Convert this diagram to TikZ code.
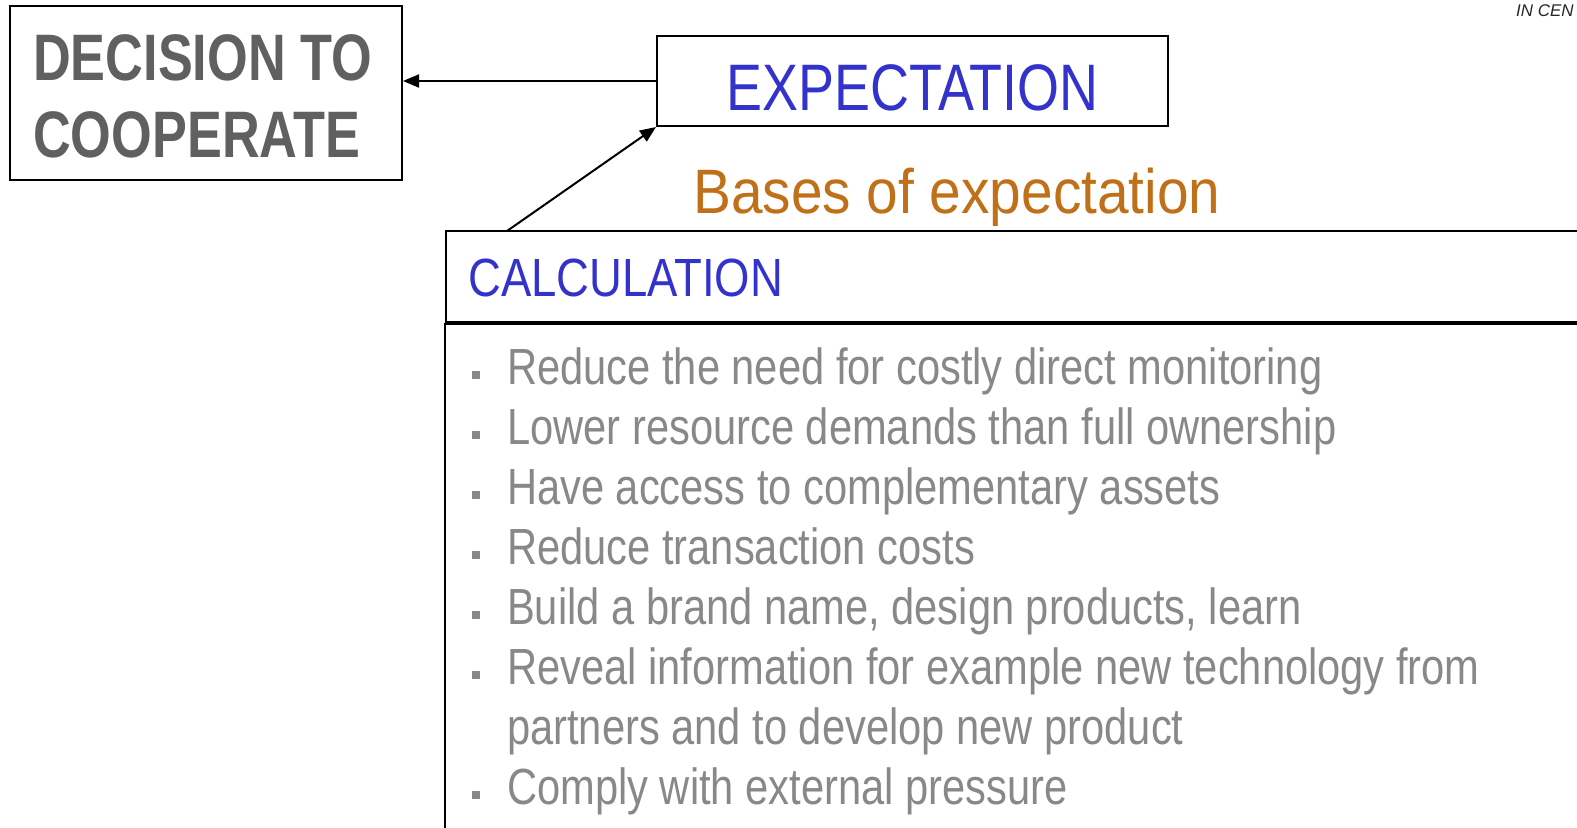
\documentclass[tikz,border=0pt]{standalone}
\usepackage{fontspec}
\setmainfont{Liberation Sans}[FakeStretch=0.82]
\newfontfamily\decfont{Liberation Sans}[FakeStretch=0.795]
\newfontfamily\basesfont{Liberation Sans}[FakeStretch=0.905]
\newfontfamily\calcfont{Liberation Sans}[FakeStretch=0.845]
\newfontfamily\cenfont{Liberation Sans}
\usetikzlibrary{arrows.meta}
\definecolor{dgray}{HTML}{606060}
\definecolor{eblue}{HTML}{3333CC}
\definecolor{borange}{HTML}{C07018}
\definecolor{lgray}{HTML}{888888}
\begin{document}
\begin{tikzpicture}[x=1bp,y=-1bp,
  box/.style={draw=black,line width=2bp,rectangle,inner sep=0pt},
  conn/.style={line width=2bp,-{Triangle[length=16bp,width=13bp]}},
  itemtext/.style={anchor=base west,inner sep=0pt,text=lgray,font=\fontsize{51}{60}\selectfont},
  bul/.style={fill=lgray,minimum size=7.5bp,inner sep=0pt,rectangle}]
\useasboundingbox (0,0) rectangle (1577,827);
% boxes
\node[box,minimum width=392bp,minimum height=174bp] (dec) at (206,93) {};
\node[box,minimum width=511bp,minimum height=90bp] (exp) at (912.5,81) {};
\node[box,minimum width=1150bp,minimum height=91bp] (calc) at (1021,276.5) {};
\draw[line width=3bp] (calc.south west) -- (calc.south east);
\draw[line width=2bp] (calc.south west) -- ++(0,520);
% texts
\node[anchor=base west,inner sep=0pt,text=dgray,font=\decfont\fontsize{66}{77}\selectfont\bfseries] (dect1) at (33,80) {DECISION TO};
\node[anchor=base west,inner sep=0pt,text=dgray,font=\decfont\fontsize{66}{77}\selectfont\bfseries] (dect2) at (33,157) {COOPERATE};
\node[anchor=base,inner sep=0pt,text=eblue,font=\fontsize{66}{77}\selectfont] (expt) at (912.5,110) {EXPECTATION};
\node[anchor=base west,inner sep=0pt,text=borange,font=\basesfont\fontsize{63}{70}\selectfont] (bases) at (693,213) {Bases of expectation};
\node[anchor=base west,inner sep=0pt,text=eblue,font=\calcfont\fontsize{54}{60}\selectfont] (calct) at (468,296) {CALCULATION};
\node[anchor=base west,inner sep=0pt,text=black!85,font=\cenfont\fontsize{17}{18}\selectfont\itshape] (cen) at (1516,16) {IN CEN};
% connectors
\draw[conn] (exp.west) -- (exp.west -| dec.east);
\coordinate (cs) at (507,231);
\draw[conn] (cs) -- (exp.south west);
% items
\foreach \i/\y/\t in {1/384/{Reduce the need for costly direct monitoring},
  2/444/{Lower resource demands than full ownership},
  3/504/{Have access to complementary assets},
  4/564/{Reduce transaction costs},
  5/624/{Build a brand name, design products, learn},
  6/684/{Reveal information for example new technology from},
  8/804/{Comply with external pressure}}{
  \node[bul] (b\i) at (476,\y-9) {};
  \node[itemtext] (t\i) at (507,\y) {\t};
}
\node[itemtext] (t7) at (507,744) {partners and to develop new product};
\end{tikzpicture}
\end{document}
